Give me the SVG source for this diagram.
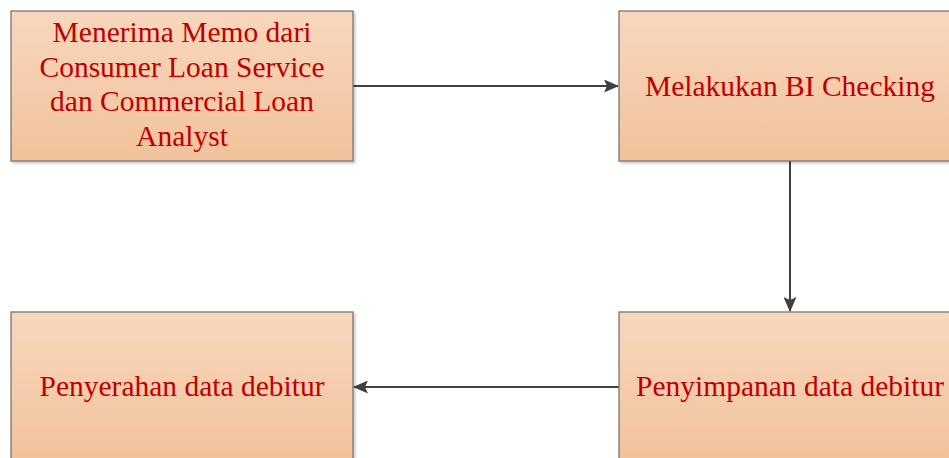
<svg xmlns="http://www.w3.org/2000/svg" width="949" height="458" viewBox="0 0 949 458">
<defs>
<linearGradient id="g" x1="0" y1="0" x2="0" y2="1">
<stop offset="0" stop-color="#f8d7bd"/>
<stop offset="1" stop-color="#f1c29b"/>
</linearGradient>
<marker id="ah" markerWidth="15" markerHeight="13" refX="14" refY="6.5" orient="auto" markerUnits="userSpaceOnUse">
<path d="M0,0 L15,6.5 L0,13 L3,6.5 Z" fill="#404040"/>
</marker>
<filter id="sh" x="-5%" y="-5%" width="115%" height="115%">
<feGaussianBlur in="SourceAlpha" stdDeviation="1.2"/>
<feOffset dx="2" dy="2" result="b"/>
<feComponentTransfer><feFuncA type="linear" slope="0.2"/></feComponentTransfer>
<feMerge><feMergeNode/><feMergeNode in="SourceGraphic"/></feMerge>
</filter>
</defs>
<style>
.box{fill:url(#g);stroke:#767676;stroke-width:1.3;filter:url(#sh)}
.t{font-family:"Liberation Serif","Times New Roman",serif;font-size:29.5px;fill:#c00000;text-anchor:middle}
.c{stroke:#404040;stroke-width:2;fill:none;marker-end:url(#ah)}
</style>
<rect width="949" height="458" fill="#ffffff"/>
<g id="connectors">
<line class="c" x1="353" y1="86" x2="618" y2="86"/>
<line class="c" x1="790" y1="161" x2="790" y2="311"/>
<line class="c" x1="619" y1="387" x2="354" y2="387"/>
</g>
<g id="n1">
<rect class="box" x="11" y="11" width="342" height="150"/>
<text class="t" x="182" y="42">Menerima Memo dari</text>
<text class="t" x="182" y="77">Consumer Loan Service</text>
<text class="t" x="182" y="111">dan Commercial Loan</text>
<text class="t" x="182" y="146">Analyst</text>
</g>
<g id="n2">
<rect class="box" x="619" y="11" width="342" height="150"/>
<text class="t" x="790" y="96">Melakukan BI Checking</text>
</g>
<g id="n3">
<rect class="box" x="11" y="312" width="342" height="150"/>
<text class="t" x="182" y="396">Penyerahan data debitur</text>
</g>
<g id="n4">
<rect class="box" x="619" y="312" width="342" height="150"/>
<text class="t" x="790" y="396">Penyimpanan data debitur</text>
</g>
</svg>
